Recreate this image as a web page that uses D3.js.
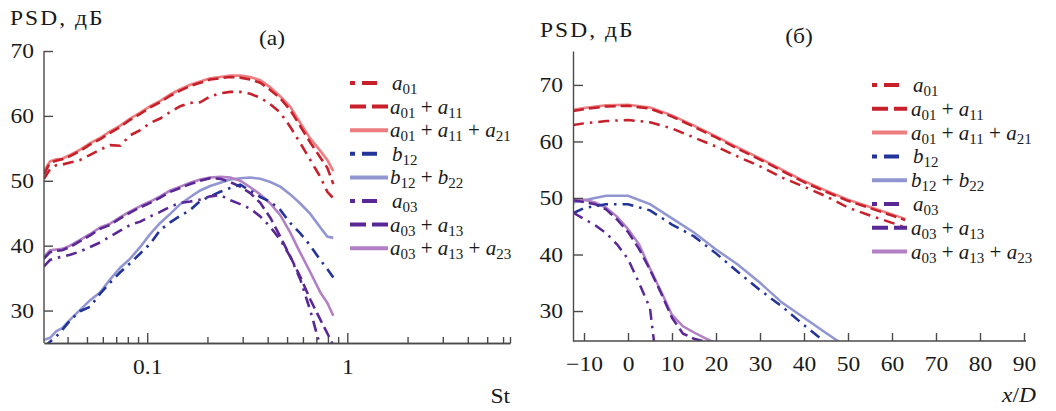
<!DOCTYPE html>
<html>
<head>
<meta charset="utf-8">
<script src="https://cdn.jsdelivr.net/npm/d3@7"></script>
<style>
  body { margin: 0; background: #fff; }
  svg text { font-family: "Liberation Serif", "Times New Roman", serif; fill: #1a1a1a; }
</style>
</head>
<body>
<svg id="chart" width="1056" height="411"></svg>
<script>
// ---------- panel (a): spectra vs Strouhal number ----------
const stValues = [0.0305, 0.0327, 0.0351, 0.0376, 0.0412, 0.0462, 0.0519, 0.0582, 0.0653, 0.0733,
  0.0822, 0.0923, 0.1035, 0.1161, 0.1303, 0.1462, 0.1641, 0.1841, 0.2065, 0.2317,
  0.26, 0.2917, 0.3273, 0.3673, 0.4121, 0.4624, 0.5188, 0.5821, 0.6531, 0.7328, 0.7943, 0.8511];

const psdA01 = [50.3, 51.8, 52.4, 52.5, 52.8, 53.2, 54.0, 54.8, 55.5, 55.4, 57.0, 57.8, 58.9, 59.6, 60.6, 61.5,
  62.0, 62.1, 63.0, 63.5, 63.7, 63.7, 63.4, 62.8, 61.8, 60.5, 58.3, 55.8, 53.2, 50.6, 48.3, 47.3];
const psdA01A11 = [51.0, 52.8, 53.1, 53.3, 53.8, 54.6, 55.6, 56.4, 57.4, 58.3, 59.4, 60.3, 61.3, 62.1, 63.1, 63.9,
  64.6, 65.1, 65.6, 65.8, 66.0, 65.9, 65.6, 65.1, 64.0, 62.7, 60.9, 58.4, 55.9, 53.6, 52.0, 49.5];
const psdA01A11A21 = [51.5, 53.0, 53.3, 53.4, 54.0, 54.8, 55.8, 56.6, 57.6, 58.5, 59.6, 60.5, 61.5, 62.3, 63.3, 64.1,
  64.8, 65.3, 65.8, 66.0, 66.2, 66.2, 66.0, 65.5, 64.4, 63.0, 61.4, 58.9, 56.5, 54.6, 53.2, 51.5];
const psdB12 = [24.3, 25.2, 26.0, 27.0, 28.5, 29.9, 30.6, 32.6, 34.3, 35.9, 37.3, 38.8, 40.3, 42.4, 43.6, 44.6,
  45.5, 46.9, 47.6, 48.3, 48.9, 49.4, 48.5, 47.5, 46.8, 45.5, 43.5, 41.9, 40.0, 37.8, 36.4, 35.1];
const psdB12B22 = [25.5, 25.8, 26.8, 27.3, 28.6, 30.1, 31.6, 32.8, 34.8, 36.6, 38.0, 39.8, 41.8, 43.5, 44.9, 46.4,
  47.5, 48.5, 49.2, 49.7, 50.2, 50.4, 50.5, 50.3, 49.8, 49.1, 47.9, 46.5, 44.9, 42.8, 41.4, 41.2];
const psdA03 = [36.8, 37.8, 38.1, 38.3, 38.6, 39.1, 39.8, 40.5, 41.4, 42.3, 43.2, 43.7, 44.5, 45.2, 46.0, 46.6,
  46.8, 47.1, 47.6, 47.8, 47.0, 46.4, 45.7, 44.5, 42.9, 40.9, 38.3, 34.8, 30.0, 24.5, null, null];
const psdA03A13 = [38.0, 39.0, 39.2, 39.3, 39.8, 40.7, 41.6, 42.6, 43.2, 44.2, 45.1, 45.9, 46.6, 47.4, 48.3, 48.9,
  49.5, 50.0, 50.4, 50.3, 49.8, 49.1, 48.1, 46.6, 44.3, 41.4, 38.3, 35.2, 31.7, 28.6, 26.5, 24.6];
const psdA03A13A23 = [38.3, 39.3, 39.4, 39.5, 40.0, 40.9, 41.8, 42.8, 43.4, 44.4, 45.3, 46.1, 46.8, 47.6, 48.5, 49.1,
  49.7, 50.2, 50.5, 50.6, 50.5, 50.0, 49.0, 47.9, 46.5, 44.7, 42.0, 38.9, 35.9, 32.8, 31.2, 29.2];

const stMajorTicks = [0.1, 1];
const stMinorTicks = [0.04, 0.05, 0.06, 0.07, 0.08, 0.09, 0.2, 0.3, 0.4, 0.5, 0.6, 0.7, 0.8, 0.9, 2, 3, 4, 5, 6, 6.5];
const psdTicksA = [30, 40, 50, 60, 70];

// ---------- panel (б): levels along the jet axis ----------
const xdRed = [-12.5, -10, -5, 0, 5, 10, 15, 20, 25, 30, 35, 40, 45, 50, 55, 60, 63];
const profA01 = [62.9, 63.2, 63.6, 63.8, 63.4, 62.3, 60.7, 59.1, 57.3, 55.6, 53.6, 52.0, 50.3, 48.3, 46.9, 45.6, 44.8];
const profA01A11 = [65.4, 65.7, 66.2, 66.3, 65.8, 64.4, 62.6, 60.7, 58.7, 56.8, 54.8, 52.8, 51.1, 49.5, 48.2, 46.9, 46.1];
const profA01A11A21 = [65.6, 65.9, 66.4, 66.5, 66.0, 64.6, 62.8, 60.9, 58.9, 57.0, 55.0, 53.0, 51.3, 49.7, 48.4, 47.1, 46.3];

const xdBlue = [-12.5, -10, -5, 0, 5, 10, 15, 20, 25, 30, 35, 40, 45, 50];
const profB12 = [47.3, 48.2, 48.9, 48.9, 47.8, 45.3, 43.2, 40.2, 36.9, 33.7, 30.8, 27.5, 24.4, 21.5];
const profB12B22 = [49.2, 49.6, 50.4, 50.4, 48.9, 46.4, 43.9, 40.9, 38.2, 35.0, 31.5, 28.8, 26.1, 23.5];

const xdA03 = [-12.5, -10, -7.5, -5, -2.5, 0, 2.5, 5, 6];
const profA03 = [47.4, 46.3, 45.2, 43.8, 41.8, 39.2, 35.0, 30.5, 24.0];
const xdPurple = [-12.5, -10, -7.5, -5, -2.5, 0, 2.5, 5, 7.5, 10, 12.5, 15, 17.5, 20];
const profA03A13 = [49.6, 49.3, 48.9, 48.0, 46.2, 44.0, 41.0, 37.3, 33.2, 28.8, 26.0, 25.1, 24.6, 24.3];
const profA03A13A23 = [49.8, 49.7, 49.2, 48.3, 46.7, 44.5, 41.8, 37.5, 33.5, 29.3, 27.3, 26.2, 25.2, 24.3];

const xdTicks = [-10, 0, 10, 20, 30, 40, 50, 60, 70, 80, 90];
const psdTicksB = [30, 40, 50, 60, 70];

// legend terms: [letter, subscript] joined with " + "
const legendTerms = [
  [["a", "01"]],
  [["a", "01"], ["a", "11"]],
  [["a", "01"], ["a", "11"], ["a", "21"]],
  [["b", "12"]],
  [["b", "12"], ["b", "22"]],
  [["a", "03"]],
  [["a", "03"], ["a", "13"]],
  [["a", "03"], ["a", "13"], ["a", "23"]]
];

// ---------- styles ----------
const RED = "#c8202a", RED_LIGHT = "#ee7d80";
const BLUE = "#22339a", BLUE_LIGHT = "#9196d3";
const PURPLE = "#5a2796", PURPLE_LIGHT = "#b27fc4";
const seriesStyle = [
  { color: RED, kind: "dashdot" },
  { color: RED, kind: "dash" },
  { color: RED_LIGHT, kind: "solid" },
  { color: BLUE, kind: "dashdot" },
  { color: BLUE_LIGHT, kind: "solid" },
  { color: PURPLE, kind: "dashdot" },
  { color: PURPLE, kind: "dash" },
  { color: PURPLE_LIGHT, kind: "solid" }
];
const curveDash = { solid: null, dash: "11,5", dashdot: "11,6,2.5,6" };
const drawOrder = [2, 4, 7, 1, 6, 0, 3, 5];

const svg = d3.select("#chart");
const AXIS = "#4a4a4a";
const FS = 21;
const SX = 1.12;   // horizontal stretch of the serif face

function styleAxis(g) {
  g.select(".domain").attr("stroke", AXIS).attr("stroke-width", 1.4);
  g.selectAll(".tick line").attr("stroke", AXIS).attr("stroke-width", 1.4);
  g.selectAll(".tick text").attr("font-size", FS).attr("fill", "#1a1a1a")
    .attr("font-family", '"Liberation Serif", serif')
    .attr("transform", `scale(${SX},1)`);
}

function label(x, y, anchor) {
  return svg.append("text")
    .attr("transform", `translate(${x},${y}) scale(${SX},1)`)
    .attr("font-size", FS).attr("text-anchor", anchor || "start");
}

function drawLegend(x0, x1, xText, y0, dy) {
  const lg = svg.append("g");
  legendTerms.forEach((terms, i) => {
    const st = seriesStyle[i];
    const y = y0 + i * dy;
    let dash = null;
    if (st.kind === "dash") dash = "16,6,40";
    if (st.kind === "dashdot") dash = "5,7,15,40";
    lg.append("line")
      .attr("x1", x0).attr("x2", st.kind === "dashdot" ? x0 + 27 : x1)
      .attr("y1", y).attr("y2", y)
      .attr("stroke", st.color).attr("stroke-width", 4)
      .attr("stroke-dasharray", dash);
    const t = lg.append("text")
      .attr("x", xText + (terms.length === 1 ? 2 : 0)).attr("y", y + 7)
      .attr("font-size", FS);
    terms.forEach((term, k) => {
      if (k > 0) t.append("tspan").attr("dy", -4).text(" + ");
      t.append("tspan").attr("font-style", "italic").text(term[0]);
      t.append("tspan").attr("font-size", 15).attr("dy", 4).text(term[1]);
    });
  });
}

// =============== panel (a) ===============
const xL = d3.scaleLog().domain([0.0305, 6.5]).range([44, 510]);
const yL = d3.scaleLinear().domain([25, 70]).range([343, 51]);

svg.append("clipPath").attr("id", "clipA").append("rect")
  .attr("x", 44).attr("y", 40).attr("width", 466).attr("height", 303);

const gA = svg.append("g").attr("clip-path", "url(#clipA)");
const seriesA = [psdA01, psdA01A11, psdA01A11A21, psdB12, psdB12B22, psdA03, psdA03A13, psdA03A13A23];
const lineA = d3.line()
  .defined(d => d[1] != null)
  .x(d => xL(d[0])).y(d => yL(d[1]));
drawOrder.forEach(i => {
  const st = seriesStyle[i];
  gA.append("path")
    .datum(stValues.map((s, j) => [s, seriesA[i][j]]))
    .attr("fill", "none").attr("stroke", st.color)
    .attr("stroke-width", 2.6)
    .attr("stroke-dasharray", curveDash[st.kind])
    .attr("d", lineA);
});

svg.append("g").attr("transform", "translate(0,343)")
  .call(d3.axisBottom(xL).tickValues(stMinorTicks).tickSize(-6).tickSizeOuter(0).tickFormat(""))
  .call(styleAxis);
svg.append("g").attr("transform", "translate(0,343)")
  .call(d3.axisBottom(xL).tickValues(stMajorTicks).tickSize(-10).tickSizeOuter(0)
    .tickPadding(16).tickFormat(d3.format("")))
  .call(styleAxis);
svg.append("g").attr("transform", "translate(44,0)")
  .call(d3.axisLeft(yL).tickValues(psdTicksA).tickSize(-9).tickSizeOuter(0).tickPadding(9))
  .call(styleAxis)
  .call(g => g.select(".domain").attr("d", `M0,${yL(25)}V${yL(70)}`));

label(10, 25).attr("letter-spacing", 1.8).text("PSD, дБ");
label(272, 45, "middle").text("(a)");
label(510, 403, "end").text("St");

drawLegend(350, 388, 390, 83, 23.6);

// =============== panel (б) ===============
const xR = d3.scaleLinear().domain([-12.5, 90]).range([573, 1024]);
const yR = d3.scaleLinear().domain([24.7, 76]).range([341, 51]);

svg.append("clipPath").attr("id", "clipB").append("rect")
  .attr("x", 573).attr("y", 51).attr("width", 453).attr("height", 290);
const gB = svg.append("g").attr("clip-path", "url(#clipB)");
const seriesB = [
  [xdRed, profA01], [xdRed, profA01A11], [xdRed, profA01A11A21],
  [xdBlue, profB12], [xdBlue, profB12B22],
  [xdA03, profA03], [xdPurple, profA03A13], [xdPurple, profA03A13A23]
];
const lineB = d3.line().x(d => xR(d[0])).y(d => yR(d[1]));
drawOrder.forEach(i => {
  const st = seriesStyle[i];
  const [xs, ys] = seriesB[i];
  gB.append("path")
    .datum(xs.map((x, j) => [x, ys[j]]))
    .attr("fill", "none").attr("stroke", st.color)
    .attr("stroke-width", 2.5)
    .attr("stroke-dasharray", curveDash[st.kind])
    .attr("d", lineB);
});

svg.append("g").attr("transform", "translate(0,341)")
  .call(d3.axisBottom(xR).tickValues(xdTicks).tickSize(-8).tickSizeOuter(0).tickPadding(15))
  .call(styleAxis)
  .call(g => g.select(".domain").attr("d", "M573,0H1026"));
svg.append("g").attr("transform", "translate(573,0)")
  .call(d3.axisLeft(yR).tickValues(psdTicksB).tickSize(-10).tickSizeOuter(0).tickPadding(9))
  .call(styleAxis);

label(540, 37).attr("letter-spacing", 1.8).text("PSD, дБ");
label(799, 43, "middle").text("(б)");
const xdLabel = label(1036, 402, "end");
xdLabel.append("tspan").attr("font-style", "italic").text("x");
xdLabel.append("tspan").text("/");
xdLabel.append("tspan").attr("font-style", "italic").text("D");

drawLegend(872, 907, 911, 85, 23.8);
</script>
</body>
</html>
